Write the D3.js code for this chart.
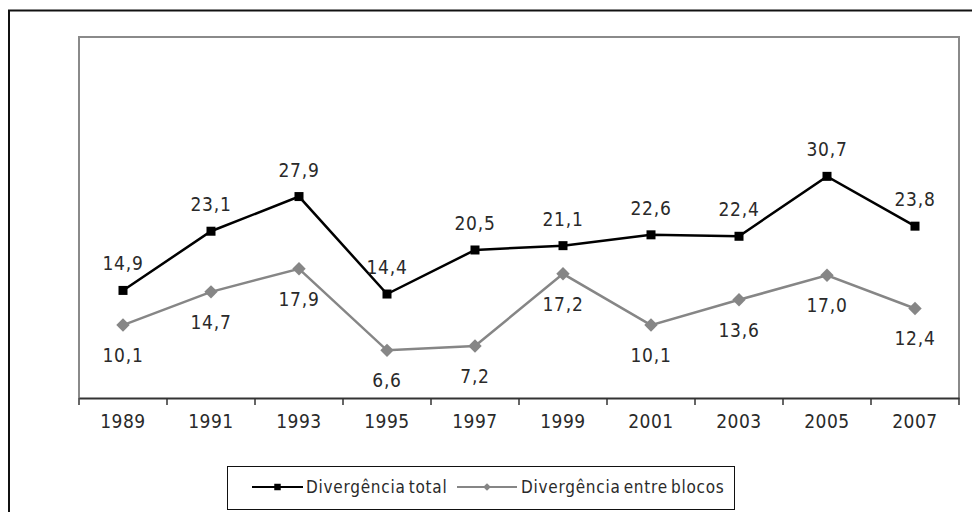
<!DOCTYPE html>
<html>
<head>
<meta charset="utf-8">
<script src="https://cdn.jsdelivr.net/npm/d3@7"></script>
<style>
  body { margin: 0; background: #fff; }
  svg text { font-family: "DejaVu Sans Condensed", "DejaVu Sans", sans-serif; fill: #2a2a2a; }
</style>
</head>
<body>
<div id="main"></div>
<script>
// data
var years = ["1989", "1991", "1993", "1995", "1997", "1999", "2001", "2003", "2005", "2007"];
var total = [14.9, 23.1, 27.9, 14.4, 20.5, 21.1, 22.6, 22.4, 30.7, 23.8];
var blocos = [10.1, 14.7, 17.9, 6.6, 7.2, 17.2, 10.1, 13.6, 17.0, 12.4];
var seriesNames = ["Divergência total", "Divergência entre blocos"];

var ctx = {
    w: 972,
    h: 512,
    left: 79,
    right: 959,
    top: 37,
    bottom: 398,
    fontSize: 19
};

var fmt = function(v) { return v.toFixed(1).replace(".", ","); };

var svg = d3.select("#main").append("svg")
    .attr("width", ctx.w)
    .attr("height", ctx.h);

// outer chart border (runs off the right and bottom of the picture)
svg.append("rect")
    .attr("x", 9).attr("y", 10.5)
    .attr("width", 1000).attr("height", 520)
    .attr("fill", "none")
    .attr("stroke", "#111")
    .attr("stroke-width", 2);

var x = d3.scaleBand().domain(years).range([ctx.left, ctx.right]);
var y = d3.scaleLinear().domain([0, 50]).range([ctx.bottom, ctx.top]);
var cx = function(d, i) { return x(years[i]) + x.bandwidth() / 2; };

// plot frame (gray)
svg.append("path")
    .attr("d", "M" + ctx.left + "," + ctx.bottom + "V" + ctx.top + "H" + ctx.right + "V" + ctx.bottom)
    .attr("fill", "none")
    .attr("stroke", "#8a8a8a")
    .attr("stroke-width", 2);

// category axis: ticks sit between the bands
var xAxis = svg.append("g")
    .attr("transform", "translate(0," + ctx.bottom + ")")
    .call(d3.axisBottom(x).tickSize(0).tickPadding(17));
xAxis.select(".domain").attr("stroke", "#333").attr("stroke-width", 2);
xAxis.selectAll("text")
    .style("font-size", ctx.fontSize + "px")
    .style("font-family", "'DejaVu Sans Condensed', 'DejaVu Sans', sans-serif")
    .style("letter-spacing", "0.5px")
    .attr("fill", "#2a2a2a");

var edges = years.map(function(d) { return x(d); }).concat([x.range()[1]]);
svg.append("g").selectAll("line")
    .data(edges)
    .enter()
    .append("line")
    .attr("x1", function(d) { return d; })
    .attr("x2", function(d) { return d; })
    .attr("y1", ctx.bottom)
    .attr("y2", ctx.bottom + 7)
    .attr("stroke", "#333")
    .attr("stroke-width", 1.5);

var line = d3.line()
    .x(cx)
    .y(function(d) { return y(d); });

// Divergência entre blocos (gray, diamonds)
svg.append("path")
    .datum(blocos)
    .attr("d", line)
    .attr("fill", "none")
    .attr("stroke", "#868686")
    .attr("stroke-width", 2.5);
svg.append("g").selectAll("path")
    .data(blocos)
    .enter()
    .append("path")
    .attr("d", d3.symbol(d3.symbolSquare, 90))
    .attr("transform", function(d, i) { return "translate(" + cx(d, i) + "," + y(d) + ") rotate(45)"; })
    .attr("fill", "#868686");
svg.append("g").selectAll("text")
    .data(blocos)
    .enter()
    .append("text")
    .attr("x", cx)
    .attr("y", function(d) { return y(d) + 37; })
    .attr("text-anchor", "middle")
    .style("font-size", ctx.fontSize + "px")
    .style("letter-spacing", "0.8px")
    .text(fmt);

// Divergência total (black, squares)
svg.append("path")
    .datum(total)
    .attr("d", line)
    .attr("fill", "none")
    .attr("stroke", "#000")
    .attr("stroke-width", 2.5);
svg.append("g").selectAll("rect")
    .data(total)
    .enter()
    .append("rect")
    .attr("x", function(d, i) { return cx(d, i) - 4.5; })
    .attr("y", function(d) { return y(d) - 4.5; })
    .attr("width", 9)
    .attr("height", 9)
    .attr("fill", "#000");
svg.append("g").selectAll("text")
    .data(total)
    .enter()
    .append("text")
    .attr("x", cx)
    .attr("y", function(d) { return y(d) - 20; })
    .attr("text-anchor", "middle")
    .style("font-size", ctx.fontSize + "px")
    .style("letter-spacing", "0.8px")
    .text(fmt);

// legend
var legend = svg.append("g");
legend.append("rect")
    .attr("x", 227.5).attr("y", 466.5)
    .attr("width", 507).attr("height", 43)
    .attr("fill", "#fff")
    .attr("stroke", "#111")
    .attr("stroke-width", 1);

var legendItems = [
    { name: seriesNames[0], color: "#000", x0: 252, x1: 303, tx: 306, marker: "square" },
    { name: seriesNames[1], color: "#868686", x0: 457, x1: 517, tx: 521, marker: "diamond" }
];
var ly = 487;
var items = legend.selectAll("g.item")
    .data(legendItems)
    .enter()
    .append("g")
    .attr("class", "item");
items.append("line")
    .attr("x1", function(d) { return d.x0; })
    .attr("x2", function(d) { return d.x1; })
    .attr("y1", ly).attr("y2", ly)
    .attr("stroke", function(d) { return d.color; })
    .attr("stroke-width", 2);
items.append("path")
    .attr("d", function(d) { return d3.symbol(d3.symbolSquare, d.marker == "square" ? 42 : 30)(); })
    .attr("transform", function(d) {
        return "translate(" + ((d.x0 + d.x1) / 2) + "," + ly + ")" + (d.marker == "diamond" ? " rotate(45)" : "");
    })
    .attr("fill", function(d) { return d.color; });
items.append("text")
    .attr("x", function(d) { return d.tx; })
    .attr("y", ly + 6)
    .style("font-size", "17px")
    .style("letter-spacing", "0.75px")
    .style("word-spacing", "-2.5px")
    .text(function(d) { return d.name; });
</script>
</body>
</html>
